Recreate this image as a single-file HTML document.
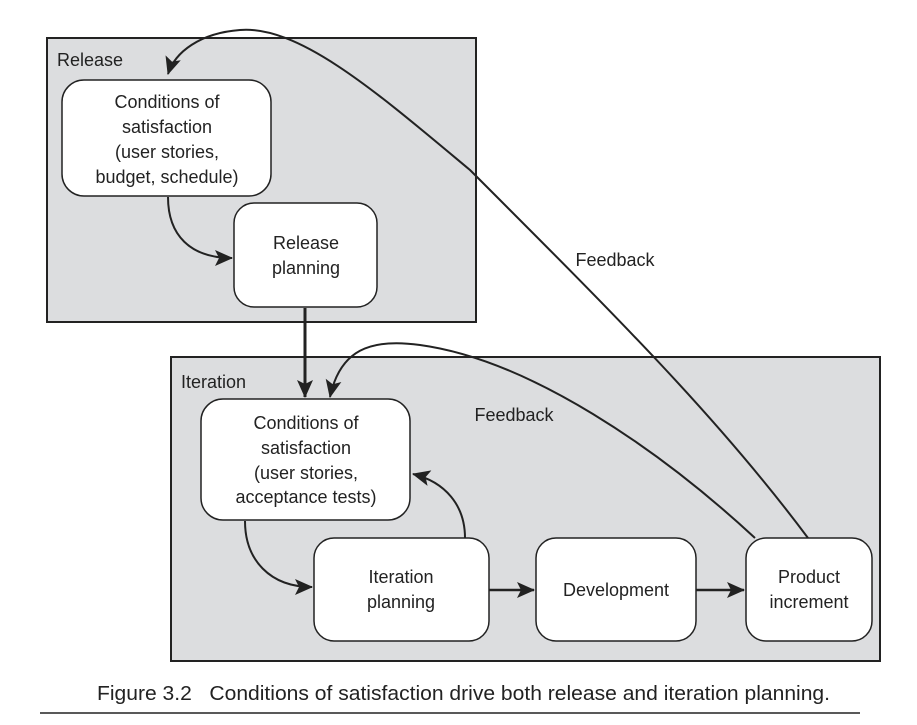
<!DOCTYPE html>
<html><head><meta charset="utf-8"><style>
body{margin:0;background:#fff;}
svg{display:block;font-family:"Liberation Sans",sans-serif;}
</style></head><body>
<svg width="917" height="725" viewBox="0 0 917 725" xmlns="http://www.w3.org/2000/svg">
<defs>
<marker id="b" markerWidth="18" markerHeight="16" refX="17" refY="8" orient="auto" markerUnits="userSpaceOnUse" viewBox="0 0 18 16">
<path d="M0,0 L18,8 L0,16 L4,8 z" fill="#222"/>
</marker>
</defs>
<rect x="47" y="38" width="429" height="284" fill="#dcdddf" stroke="#222" stroke-width="2"/>
<rect x="171" y="357" width="709" height="304" fill="#dcdddf" stroke="#222" stroke-width="2"/>
<g font-size="18" fill="#222">
<text x="57" y="66">Release</text>
<text x="181" y="388">Iteration</text>
</g>
<g fill="#fff" stroke="#222" stroke-width="1.5">
<rect x="62" y="80" width="209" height="116" rx="22"/>
<rect x="234" y="203" width="143" height="104" rx="20"/>
<rect x="201" y="399" width="209" height="121" rx="22"/>
<rect x="314" y="538" width="175" height="103" rx="20"/>
<rect x="536" y="538" width="160" height="103" rx="20"/>
<rect x="746" y="538" width="126" height="103" rx="20"/>
</g>
<g font-size="18" fill="#222" text-anchor="middle">
<text x="167" y="108">Conditions of</text>
<text x="167" y="133">satisfaction</text>
<text x="167" y="158">(user stories,</text>
<text x="167" y="183">budget, schedule)</text>
<text x="306" y="249">Release</text>
<text x="306" y="274">planning</text>
<text x="306" y="429">Conditions of</text>
<text x="306" y="454">satisfaction</text>
<text x="306" y="479">(user stories,</text>
<text x="306" y="503">acceptance tests)</text>
<text x="401" y="583">Iteration</text>
<text x="401" y="608">planning</text>
<text x="616" y="596">Development</text>
<text x="809" y="583">Product</text>
<text x="809" y="608">increment</text>
<text x="615" y="266">Feedback</text>
<text x="514" y="421">Feedback</text>
</g>
<g fill="none" stroke="#222" stroke-width="2">
<path d="M168,197 C168,235 190,258 232,258" marker-end="url(#b)"/>
<path d="M245,521 C245,560 270,587 312,587" marker-end="url(#b)"/>
<path d="M465,538 C465,505 445,482 413,474" marker-end="url(#b)"/>
<path d="M305,308 L305,397" stroke-width="3" marker-end="url(#b)"/>
<path d="M489,590 L534,590" stroke-width="2.5" marker-end="url(#b)"/>
<path d="M696,590 L744,590" stroke-width="2.5" marker-end="url(#b)"/>
<path d="M808,538 C720,420 620,320 470,170 C380,95 300,25 240,30 C200,33 175,52 168,74" marker-end="url(#b)"/>
<path d="M755,538 C660,450 530,360 420,345 C370,338 340,350 330,397" marker-end="url(#b)"/>
</g>
<text x="97" y="700" font-size="20" fill="#222" textLength="733" lengthAdjust="spacingAndGlyphs" xml:space="preserve">Figure 3.2   Conditions of satisfaction drive both release and iteration planning.</text>
<line x1="40" y1="713" x2="860" y2="713" stroke="#222" stroke-width="1.5"/>
</svg>
</body></html>
